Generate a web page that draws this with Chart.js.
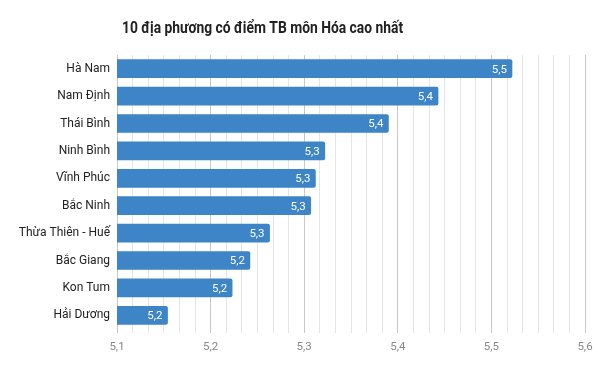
<!DOCTYPE html>
<html>
<head>
<meta charset="utf-8">
<script src="https://cdn.jsdelivr.net/npm/chart.js@4.4.1/dist/chart.umd.min.js"></script>
<style>
  html, body { margin: 0; padding: 0; background: #fff; }
  #wrap { width: 604px; height: 374px; position: relative; }
</style>
</head>
<body>
<div id="wrap"><canvas id="mychart"></canvas></div>
<script>
const chartTitle = '10 địa phương có điểm TB môn Hóa cao nhất';
const provinces = ['Hà Nam', 'Nam Định', 'Thái Bình', 'Ninh Bình', 'Vĩnh Phúc', 'Bắc Ninh', 'Thừa Thiên - Huế', 'Bắc Giang', 'Kon Tum', 'Hải Dương'];
const scores = [5.522, 5.443, 5.390, 5.322, 5.312, 5.307, 5.263, 5.242, 5.223, 5.154];
const xTickLabels = [5.1, 5.2, 5.3, 5.4, 5.5, 5.6];
const minorPerMajor = 6;

// comma decimal like the original
function fmt(v) {
    return v.toFixed(1).replace('.', ',');
}

// title is centred a bit left of the canvas middle in the original, condensed look
const titlePlugin = {
    id: 'titleText',
    afterDraw(chart) {
        const ctx = chart.ctx;
        ctx.save();
        ctx.font = 'bold 16px Roboto';
        ctx.fillStyle = '#222';
        ctx.textAlign = 'center';
        ctx.textBaseline = 'middle';
        ctx.translate(262.5, 29);
        ctx.scale(0.865, 1);
        ctx.fillText(chartTitle, 0, 0);
        ctx.restore();
    }
};

// value labels inside the bar end
const barLabels = {
    id: 'barLabels',
    afterDatasetsDraw(chart) {
        const ctx = chart.ctx;
        const meta = chart.getDatasetMeta(0);
        ctx.save();
        ctx.font = '11.5px Roboto';
        ctx.fillStyle = '#fff';
        ctx.textAlign = 'right';
        ctx.textBaseline = 'middle';
        meta.data.forEach((bar, i) => {
            ctx.fillText(fmt(scores[i]), bar.x - 5, bar.y + 1);
        });
        ctx.restore();
    }
};

const ctx = document.getElementById('mychart');
new Chart(ctx, {
    type: 'bar',
    data: {
        labels: provinces,
        datasets: [{
            data: scores,
            backgroundColor: '#3d85c6',
            borderRadius: { topRight: 2, bottomRight: 2 },
            borderSkipped: 'start',
            barThickness: 18
        }]
    },
    options: {
        indexAxis: 'y',
        responsive: true,
        maintainAspectRatio: false,
        animation: false,
        layout: { padding: { top: 55, right: 19, bottom: 0, left: 0 } },
        plugins: {
            legend: { display: false },
            title: { display: false },
            tooltip: { enabled: false }
        },
        scales: {
            x: {
                min: xTickLabels[0],
                max: xTickLabels[xTickLabels.length - 1],
                afterBuildTicks: (scale) => {
                    const ticks = [];
                    for (let i = 0; i < xTickLabels.length - 1; i++) {
                        for (let j = 0; j < minorPerMajor; j++) {
                            ticks.push({ value: xTickLabels[i] + (xTickLabels[i + 1] - xTickLabels[i]) * j / minorPerMajor });
                        }
                    }
                    ticks.push({ value: xTickLabels[xTickLabels.length - 1] });
                    scale.ticks = ticks;
                },
                afterFit: (scale) => { scale.height = 45; },
                border: { display: false },
                grid: {
                    color: (c) => (c.index % minorPerMajor === 0 ? '#c8c8c8' : '#e4e4e4'),
                    lineWidth: 1,
                    tickLength: 4,
                    drawTicks: true
                },
                ticks: {
                    autoSkip: false,
                    maxRotation: 0,
                    padding: 7,
                    color: '#888',
                    font: { family: 'Roboto', size: 11.5 },
                    callback: (v, i) => (i % minorPerMajor === 0 ? fmt(v) : '')
                }
            },
            y: {
                afterFit: (scale) => { scale.width = 117; },
                border: { display: true, color: '#c8c8c8' },
                grid: { display: false, drawTicks: false },
                ticks: {
                    padding: 7,
                    color: '#222',
                    font: { family: 'Roboto', size: 12 }
                }
            }
        }
    },
    plugins: [titlePlugin, barLabels]
});
</script>
</body>
</html>
